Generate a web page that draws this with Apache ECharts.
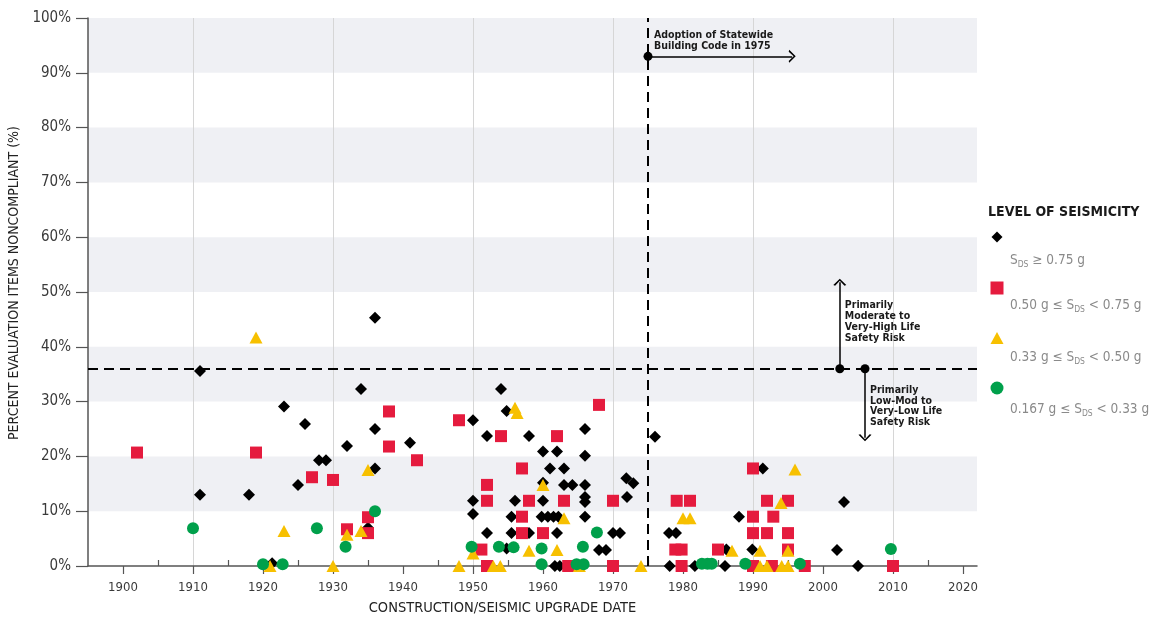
<!DOCTYPE html>
<html>
<head>
<meta charset="utf-8">
<script src="https://cdn.jsdelivr.net/npm/echarts@6/dist/echarts.min.js"></script>
<style>
  html, body { margin: 0; padding: 0; background: #ffffff; }
  #chart { width: 1153px; height: 621px; }
</style>
</head>
<body>
<div id="chart"></div>
<script>
// Year of construction / seismic upgrade vs. share of evaluation items found noncompliant.
const FONT = '"DejaVu Sans Condensed","Liberation Sans Narrow","DejaVu Sans",sans-serif';

const decadeTicks = [1900, 1910, 1920, 1930, 1940, 1950, 1960, 1970, 1980, 1990, 2000, 2010, 2020];
const halfDecadeTicks = [1905, 1915, 1925, 1935, 1945, 1955, 1965, 1975, 1985, 1995, 2005, 2015];
const percentTicks = [0, 10, 20, 30, 40, 50, 60, 70, 80, 90, 100];

// [year, percent noncompliant] by level of seismicity
const sdsHigh = [
  [1911, 35.6], [1911, 13.0], [1918, 13.0], [1921.3, 0.5], [1923, 29.1], [1925, 14.8], [1926, 25.9],
  [1928, 19.3], [1929, 19.3], [1932, 21.9], [1934, 32.3], [1935, 7.0], [1936, 45.3], [1936, 25.0],
  [1936, 17.8], [1941, 22.5], [1950, 26.6], [1950, 11.9], [1950, 9.5], [1952, 23.7], [1952, 6.0],
  [1954, 32.3], [1954.8, 28.3], [1954.8, 3.2], [1956, 11.9], [1955.5, 9.0], [1955.5, 6.0],
  [1958, 23.7], [1958, 6.0], [1960, 20.9], [1960, 15.2], [1960, 11.9], [1959.8, 9.0], [1960.7, 9.0],
  [1961, 17.8], [1961.5, 9.0], [1962.2, 9.0], [1962, 20.9], [1962, 6.0], [1961.7, 0], [1962.4, 0],
  [1963, 17.8], [1963, 14.8], [1964.2, 14.8], [1966, 25.0], [1966, 20.1], [1966, 14.8], [1966, 12.6],
  [1966, 11.7], [1966, 9.0], [1968, 2.9], [1969, 2.9], [1970, 6.0], [1971, 6.0], [1971.9, 16.0],
  [1972.9, 15.1], [1972, 12.6], [1976, 23.6], [1978, 6.0], [1979, 6.0], [1978.1, 0], [1981.7, 0],
  [1986.2, 3.0], [1986, 0], [1988, 9.0], [1989.9, 3.0], [1991.4, 17.8], [2003, 11.7], [2002, 2.9],
  [2005, 0]
];
const sdsModHigh = [
  [1902, 20.7], [1919, 20.7], [1927, 16.2], [1930, 15.7], [1932, 6.7], [1935, 8.9], [1935, 6.0],
  [1938, 28.2], [1938, 21.8], [1942, 19.3], [1948, 26.6], [1951.2, 3.0], [1952, 14.8], [1952, 11.9],
  [1952, 0], [1954, 23.7], [1957, 17.8], [1957, 9.0], [1957, 6.0], [1958, 11.9], [1960, 6.0],
  [1962, 23.7], [1963, 11.9], [1963.6, 0], [1968, 29.4], [1970, 11.9], [1970, 0], [1979.1, 11.9],
  [1981, 11.9], [1978.9, 3.0], [1979.8, 3.0], [1979.8, 0], [1985, 3.0], [1990, 17.8], [1990, 9.0],
  [1990, 6.0], [1990, 0], [1992, 11.9], [1992, 6.0], [1992.9, 9.0], [1992.7, 0], [1995, 11.9],
  [1995, 6.0], [1995, 3.0], [1997.4, 0], [2010, 0]
];
const sdsModerate = [
  [1919, 41.7], [1921, 0], [1923, 6.4], [1930, 0], [1932, 5.7], [1934, 6.4], [1935, 17.5],
  [1948, 0], [1950, 2.3], [1952.9, 0], [1953.9, 0], [1956, 28.9], [1956.3, 27.9], [1958, 2.8],
  [1960, 14.8], [1962, 2.9], [1963, 8.7], [1965.2, 0], [1974, 0], [1980, 8.7], [1981, 8.7],
  [1987, 2.8], [1991, 2.8], [1991, 0], [1992, 0], [1994, 11.5], [1994.1, 0], [1995, 0],
  [1995, 2.8], [1996, 17.6]
];
const sdsLow = [
  [1910, 6.9], [1920, 0.3], [1922.8, 0.3], [1927.7, 6.9], [1931.8, 3.5], [1936, 10.0], [1949.8, 3.5],
  [1953.7, 3.5], [1955.8, 3.4], [1959.8, 3.2], [1959.8, 0.3], [1964.8, 0.3], [1965.8, 0.3],
  [1965.7, 3.5], [1967.7, 6.1], [1982.7, 0.4], [1983.5, 0.4], [1984.1, 0.4], [1988.9, 0.4],
  [1996.7, 0.4], [2009.7, 3.1]
];

const codeYear = 1975;
const riskThreshold = 36;

const COLORS = { high: '#000000', modHigh: '#e51b3e', moderate: '#f7c000', low: '#00a04b' };
const chevron = 'path://M0,10 L5,0 L10,10 L8.6,10.8 L5,3.2 L1.4,10.8 Z';

const chart = echarts.init(document.getElementById('chart'), null, { renderer: 'canvas' });

function scatter(name, data, symbol, size, color, z) {
  return {
    name, type: 'scatter', data, symbol, symbolSize: size, clip: false, z,
    itemStyle: { color, opacity: 1 }, emphasis: { disabled: true }
  };
}

const arrowLine = { color: '#000', width: 1.5, type: 'solid' };

chart.setOption({
  animation: false,
  backgroundColor: '#ffffff',
  textStyle: { fontFamily: FONT },
  grid: { left: 88, right: 176, top: 18, bottom: 55, outerBoundsMode: 'none', containLabel: false },
  xAxis: [{
    type: 'value', min: 1895, max: 2022, interval: 5,
    name: 'CONSTRUCTION/SEISMIC UPGRADE DATE', nameLocation: 'middle', nameGap: 35,
    nameTextStyle: { fontFamily: FONT, fontSize: 14.5, color: '#222', padding: [0, 60, 0, 0] },
    axisLine: { show: true, lineStyle: { color: '#555', width: 1.5 } },
    axisTick: { show: true, inside: false, length: 8, customValues: decadeTicks, lineStyle: { color: '#555', width: 1.2 } },
    axisLabel: {
      customValues: decadeTicks, margin: 15, fontFamily: FONT, fontSize: 13, color: '#3a3a3a',
      formatter: v => (v % 10 === 0 ? String(v) : '')
    },
    splitLine: { show: true, lineStyle: { color: ['rgba(0,0,0,0)', '#d6d6d6'], width: 1 } }
  }, {
    type: 'value', min: 1895, max: 2022, position: 'top', offset: -548,
    axisLine: { show: false },
    axisTick: { show: true, inside: false, length: 6, customValues: halfDecadeTicks, lineStyle: { color: '#555', width: 1.2 } },
    axisLabel: { show: false },
    splitLine: { show: false }
  }],
  yAxis: {
    type: 'value', min: 0, max: 100, interval: 10,
    name: 'PERCENT EVALUATION ITEMS NONCOMPLIANT (%)', nameLocation: 'middle', nameGap: 62,
    nameTextStyle: { fontFamily: FONT, fontSize: 14, color: '#222', padding: [0, 0, 0, 18] },
    axisLine: { show: true, lineStyle: { color: '#555', width: 1.5 } },
    axisTick: { show: true, inside: false, length: 12, lineStyle: { color: '#555', width: 1.2 } },
    axisLabel: { margin: 17, fontFamily: FONT, fontSize: 15, color: '#3a3a3a', formatter: '{value}%' },
    splitLine: { show: false },
    splitArea: { show: true, areaStyle: { color: ['rgba(255,255,255,0)', '#eff0f4'] } }
  },
  series: [
    {
      name: 'reference', type: 'scatter', data: [], z: 1, silent: true,
      markLine: {
        silent: true, animation: false, symbol: 'none', label: { show: false },
        lineStyle: { color: '#000', width: 2, type: [10, 6] },
        data: [
          { yAxis: riskThreshold },
          { xAxis: codeYear }
        ]
      }
    },
    {
      name: 'annotations', type: 'scatter', data: [], z: 6, silent: true,
      markLine: {
        silent: true, animation: false, label: { show: false },
        data: [
          [{ coord: [codeYear, 93], symbol: 'circle', symbolSize: 9, lineStyle: arrowLine },
           { coord: [1995.6, 93], symbol: chevron, symbolSize: [13, 7] }],
          [{ coord: [2002.4, riskThreshold], symbol: 'circle', symbolSize: 9, lineStyle: arrowLine },
           { coord: [2002.4, 51.8], symbol: chevron, symbolSize: [13, 7] }],
          [{ coord: [2006, riskThreshold], symbol: 'circle', symbolSize: 9, lineStyle: arrowLine },
           { coord: [2006, 23.4], symbol: chevron, symbolSize: [13, 7] }]
        ]
      }
    },
    scatter('S_DS ≥ 0.75 g', sdsHigh, 'diamond', 12, COLORS.high, 2),
    scatter('0.50 g ≤ S_DS < 0.75 g', sdsModHigh, 'rect', 12, COLORS.modHigh, 3),
    scatter('0.33 g ≤ S_DS < 0.50 g', sdsModerate, 'triangle', [13, 12], COLORS.moderate, 4),
    scatter('0.167 g ≤ S_DS < 0.33 g', sdsLow, 'circle', 12, COLORS.low, 5)
  ]
});

// Annotation texts placed from data coordinates
const noteStyle = { fontFamily: FONT, fontSize: 10.5, fontWeight: 'bold', fill: '#1a1a1a', lineHeight: 10.8 };
const pCode = chart.convertToPixel({ xAxisIndex: 0, yAxisIndex: 0 }, [codeYear, 93]);
const pUp = chart.convertToPixel({ xAxisIndex: 0, yAxisIndex: 0 }, [2002.4, 51.8]);
const pDown = chart.convertToPixel({ xAxisIndex: 0, yAxisIndex: 0 }, [2006, riskThreshold]);

// Legend
const legendX = 997;
const legendItems = [
  { y: 237, textY: 258, shape: 'diamond', color: COLORS.high, pre: '', post: ' ≥ 0.75 g' },
  { y: 288, textY: 303, shape: 'rect', color: COLORS.modHigh, pre: '0.50 g ≤ ', post: ' < 0.75 g' },
  { y: 338, textY: 355, shape: 'triangle', color: COLORS.moderate, pre: '0.33 g ≤ ', post: ' < 0.50 g' },
  { y: 388, textY: 407, shape: 'circle', color: COLORS.low, pre: '0.167 g ≤ ', post: ' < 0.33 g' }
];
function legendMarker(it) {
  const x = legendX, y = it.y;
  const style = { fill: it.color };
  if (it.shape === 'diamond') return { type: 'polygon', shape: { points: [[x, y - 5.5], [x + 5.5, y], [x, y + 5.5], [x - 5.5, y]] }, style };
  if (it.shape === 'rect') return { type: 'rect', shape: { x: x - 6.5, y: y - 6.5, width: 13, height: 13 }, style };
  if (it.shape === 'triangle') return { type: 'polygon', shape: { points: [[x, y - 6], [x + 6.5, y + 6], [x - 6.5, y + 6]] }, style };
  return { type: 'circle', shape: { cx: x, cy: y, r: 6.5 }, style };
}
const legendGraphics = [{
  type: 'text', left: 988, top: 205,
  style: { text: 'LEVEL OF SEISMICITY', fontFamily: FONT, fontSize: 14, fontWeight: 'bold', fill: '#1a1a1a' }
}];
legendItems.forEach(it => {
  legendGraphics.push(legendMarker(it));
  legendGraphics.push({
    type: 'text', x: 1010, y: it.textY,
    style: {
      text: (it.pre ? '{t|' + it.pre + '}' : '') + '{t|S}{s|DS}{t|' + it.post + '}',
      verticalAlign: 'middle',
      rich: {
        t: { fontFamily: FONT, fontSize: 13.5, fill: '#8a8a8a', lineHeight: 18, verticalAlign: 'bottom' },
        s: { fontFamily: FONT, fontSize: 8.5, fill: '#8a8a8a', lineHeight: 18, verticalAlign: 'bottom', padding: [0, 0, -2, 0] }
      }
    }
  });
});

chart.setOption({
  graphic: [
    { type: 'text', x: pCode[0] + 6, y: pCode[1] - 5,
      style: Object.assign({ text: 'Adoption of Statewide\nBuilding Code in 1975', verticalAlign: 'bottom' }, noteStyle) },
    { type: 'text', x: pUp[0] + 5, y: pUp[1] + 18,
      style: Object.assign({ text: 'Primarily\nModerate to\nVery-High Life\nSafety Risk', verticalAlign: 'top' }, noteStyle) },
    { type: 'text', x: pDown[0] + 5, y: pDown[1] + 16,
      style: Object.assign({ text: 'Primarily\nLow-Mod to\nVery-Low Life\nSafety Risk', verticalAlign: 'top' }, noteStyle) }
  ].concat(legendGraphics)
});
</script>
</body>
</html>
